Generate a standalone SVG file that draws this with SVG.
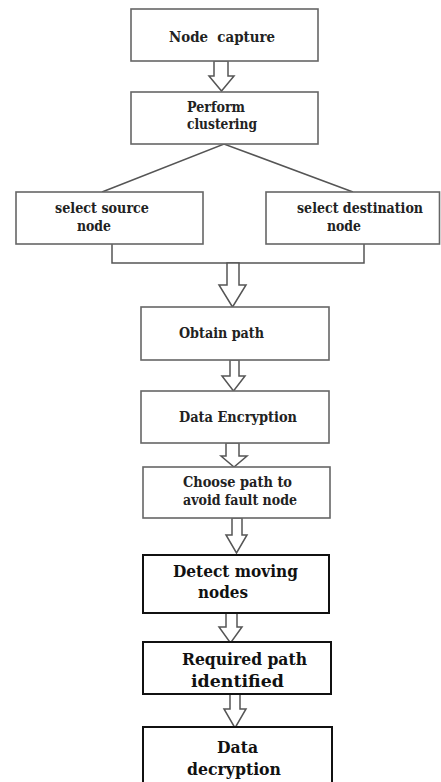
<svg xmlns="http://www.w3.org/2000/svg" width="441" height="782" viewBox="0 0 441 782">
<style>
.bx{fill:#fff;stroke:#666;stroke-width:1.6}
.bk{fill:#fff;stroke:#111;stroke-width:2}
.t{font-family:"DejaVu Serif","Liberation Serif",serif;font-weight:bold;font-size:15px;fill:#222}
.tl{font-family:"DejaVu Serif","Liberation Serif",serif;font-weight:bold;font-size:17px;fill:#111}
.ar{fill:#fff;stroke:#555;stroke-width:1.5;stroke-linejoin:miter}
.ln{fill:none;stroke:#555;stroke-width:1.5}
</style>
<rect width="441" height="782" fill="#fff"/>
<g id="connectors">
<polyline class="ln" points="102,192 224,144 353,192"/>
<path class="ln" d="M112,244 V263 H364 V244"/>
<polygon class="ar" points="214,61 228,61 228,76 234,76 221.5,91 209,76 214,76"/>
<polygon class="ar" points="227,263 239,263 239,285 246,285 232.5,307 219,285 227,285"/>
<polygon class="ar" points="230,360 239,360 239,376 245,376 233.5,391 222,376 230,376"/>
<polygon class="ar" points="226,443 239,443 239,456 247,456 234,467 221,456 226,456"/>
<polygon class="ar" points="232,518 242,518 242,535 247,535 236.5,553 226,535 232,535"/>
<polygon class="ar" points="226,613 237,613 237,627 242,627 230.5,643 219,627 226,627"/>
<polygon class="ar" points="230,694 240,694 240,709 246,709 235,728 224,709 230,709"/>
</g>
<g id="node-capture">
<rect class="bx" x="131" y="9" width="187" height="52"/>
<text class="t" x="169" y="42" xml:space="preserve" textLength="106" lengthAdjust="spacingAndGlyphs">Node  capture</text>
</g>
<g id="perform-clustering">
<rect class="bx" x="131" y="92" width="187" height="52"/>
<text class="t" x="187" y="112" textLength="58" lengthAdjust="spacingAndGlyphs">Perform</text>
<text class="t" x="187" y="129" textLength="70" lengthAdjust="spacingAndGlyphs">clustering</text>
</g>
<g id="select-source">
<rect class="bx" x="16" y="192" width="187" height="52"/>
<text class="t" x="55" y="213" textLength="94" lengthAdjust="spacingAndGlyphs">select source</text>
<text class="t" x="77" y="231" textLength="34" lengthAdjust="spacingAndGlyphs">node</text>
</g>
<g id="select-destination">
<rect class="bx" x="266" y="192" width="173.5" height="52"/>
<text class="t" x="297" y="213" font-size="13.5" textLength="126" lengthAdjust="spacingAndGlyphs">select destination</text>
<text class="t" x="327" y="231" textLength="34" lengthAdjust="spacingAndGlyphs">node</text>
</g>
<g id="obtain-path">
<rect class="bx" x="141" y="307" width="188" height="53"/>
<text class="t" x="179" y="338" textLength="85" lengthAdjust="spacingAndGlyphs">Obtain path</text>
</g>
<g id="data-encryption">
<rect class="bx" x="141" y="391" width="188" height="52"/>
<text class="t" x="179" y="422" textLength="118" lengthAdjust="spacingAndGlyphs">Data Encryption</text>
</g>
<g id="choose-path">
<rect class="bx" x="143" y="467" width="187" height="51"/>
<text class="t" x="183" y="487" textLength="109" lengthAdjust="spacingAndGlyphs">Choose path to</text>
<text class="t" x="183" y="505" textLength="114" lengthAdjust="spacingAndGlyphs">avoid fault node</text>
</g>
<g id="detect-moving">
<rect class="bk" x="143" y="555" width="186" height="58"/>
<text class="tl" x="173" y="577" textLength="125" lengthAdjust="spacingAndGlyphs">Detect moving</text>
<text class="tl" x="198" y="598" textLength="50" lengthAdjust="spacingAndGlyphs">nodes</text>
</g>
<g id="required-path">
<rect class="bk" x="143" y="642" width="188" height="52"/>
<text class="tl" x="182" y="665" textLength="125" lengthAdjust="spacingAndGlyphs">Required path</text>
<text class="tl" x="191" y="687" textLength="93" lengthAdjust="spacingAndGlyphs">identified</text>
</g>
<g id="data-decryption">
<rect class="bk" x="143" y="727" width="189" height="70"/>
<text class="tl" x="217" y="753" textLength="41" lengthAdjust="spacingAndGlyphs">Data</text>
<text class="tl" x="187" y="775" textLength="94" lengthAdjust="spacingAndGlyphs">decryption</text>
</g>
</svg>
